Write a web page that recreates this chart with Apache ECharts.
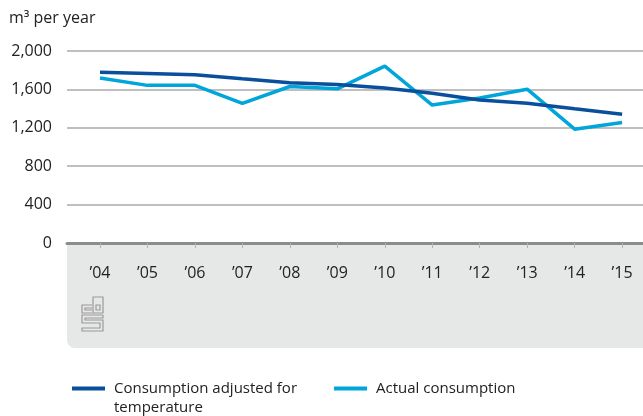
<!DOCTYPE html>
<html>
<head>
<meta charset="utf-8">
<script src="https://cdn.jsdelivr.net/npm/echarts@6/dist/echarts.min.js"></script>
<style>
  html, body { margin: 0; padding: 0; background: #fff; }
  #chart { width: 643px; height: 416px; }
</style>
</head>
<body>
<div id="chart"></div>
<script>
// Household gas consumption, m3 per year
const years = [2004, 2005, 2006, 2007, 2008, 2009, 2010, 2011, 2012, 2013, 2014, 2015];
const adjusted = [1778, 1765, 1752, 1710, 1670, 1650, 1615, 1560, 1490, 1455, 1398, 1342];
const actual = [1718, 1642, 1642, 1455, 1630, 1606, 1842, 1437, 1510, 1602, 1186, 1255];
const yTicks = [0, 400, 800, 1200, 1600, 2000];

const seriesNames = ['Consumption adjusted for\ntemperature', 'Actual consumption'];
const colors = ['#0a4f9c', '#00a6d9'];
const fontFamily = '"Open Sans", "Noto Sans", sans-serif';
const logoStroke = { fill: 'none', stroke: '#9a9a9a', lineWidth: 1.2 };

const chart = echarts.init(document.getElementById('chart'), null, { renderer: 'canvas' });

const gridLeft = 67, gridRight = 0, gridTop = 51, gridBottom = 173;
const xMin = 2003.305, xMax = 2015.44;

chart.setOption({
  animation: false,
  textStyle: { fontFamily: fontFamily },
  title: {
    text: 'm³ per year',
    left: 4, top: 5,
    textStyle: { fontFamily: fontFamily, fontSize: 16, fontWeight: 'normal', color: '#222' }
  },
  graphic: [
    {
      type: 'rect',
      z: -1,
      shape: { x: gridLeft, y: 243, width: 643 - gridLeft, height: 105, r: [0, 0, 0, 8] },
      style: { fill: '#e6e7e7' },
      silent: true
    },
    {
      // cbs logo mark
      type: 'group',
      x: 82, y: 297,
      silent: true,
      children: [
        { type: 'polyline', shape: { points: [[10, 8], [0, 8], [0, 16], [10, 16]] }, style: logoStroke },
        { type: 'polyline', shape: { points: [[10, 11], [3, 11], [3, 13], [10, 13]] }, style: logoStroke },
        { type: 'rect', shape: { x: 11, y: 0, width: 10, height: 16 }, style: logoStroke },
        { type: 'rect', shape: { x: 14, y: 8, width: 4, height: 5 }, style: logoStroke },
        { type: 'polyline', shape: { points: [[21, 18], [0, 18], [0, 26], [18, 26], [18, 31], [0, 31], [0, 34], [21, 34], [21, 23], [3, 23], [3, 21], [21, 21], [21, 18]] }, style: logoStroke }
      ]
    }
  ],
  legend: {
    left: 67, top: 355,
    itemWidth: 33, itemHeight: 4, itemGap: 37,
    icon: 'rect',
    // a blank leading line keeps the swatch level with the first text line
    formatter: name => name.includes('\n') ? ' \n' + name : name,
    textStyle: { fontFamily: fontFamily, fontSize: 15, color: '#222', lineHeight: 19, padding: [0, 0, 0, 4] },
    data: seriesNames,
    selectedMode: false
  },
  grid: { left: gridLeft, right: gridRight, top: gridTop, bottom: gridBottom, containLabel: false },
  xAxis: {
    type: 'value',
    min: xMin, max: xMax,
    axisLine: { show: true, onZero: false, lineStyle: { color: '#8c8c8c', width: 3 } },
    axisTick: { show: true, customValues: years, length: 5, lineStyle: { color: '#b5b5b5', width: 1 } },
    axisLabel: {
      customValues: years,
      margin: 22,
      fontSize: 16, color: '#222', fontFamily: fontFamily,
      formatter: v => '\u2019' + String(Math.round(v)).slice(2)
    },
    splitLine: { show: false }
  },
  yAxis: {
    type: 'value',
    min: 0, max: 2000, interval: 400,
    axisLine: { show: false },
    axisTick: { show: false },
    axisLabel: {
      margin: 15,
      fontSize: 16, color: '#222', fontFamily: fontFamily,
      formatter: v => yTicks.includes(v) ? v.toLocaleString('en-US') : ''
    },
    splitLine: { show: true, lineStyle: { color: '#aaaaaa', width: 1.5 } }
  },
  series: [
    {
      name: seriesNames[0], type: 'line',
      data: years.map((y, i) => [y, adjusted[i]]),
      symbol: 'none', color: colors[0],
      lineStyle: { width: 3.5, color: colors[0] }, z: 3
    },
    {
      name: seriesNames[1], type: 'line',
      data: years.map((y, i) => [y, actual[i]]),
      symbol: 'none', color: colors[1],
      lineStyle: { width: 3.5, color: colors[1] }, z: 2
    }
  ]
});
</script>
</body>
</html>
